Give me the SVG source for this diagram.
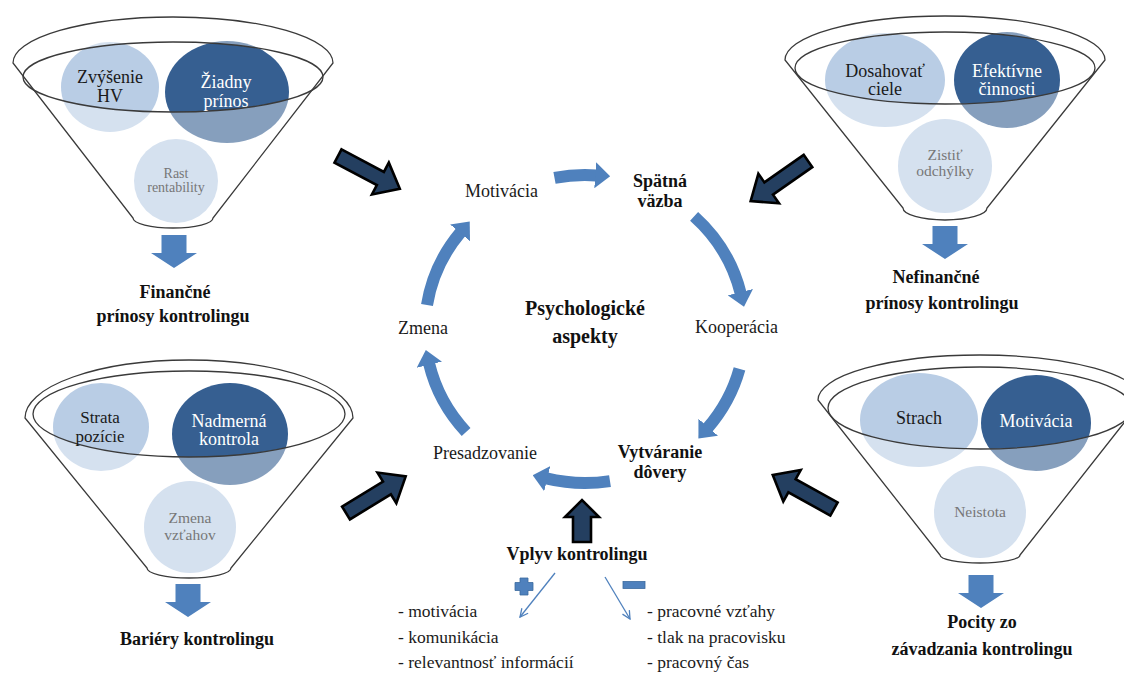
<svg xmlns="http://www.w3.org/2000/svg" width="1124" height="673" viewBox="0 0 1124 673">
  <style>
    text { font-family: "Liberation Serif", "Times New Roman", serif; }
    .c-light { fill: #B9CDE5; }
    .c-dark { fill: #365F91; }
    .veil { fill: #FFFFFF; fill-opacity: 0.4; fill-rule: evenodd; stroke: none; }
    .rim { fill: none; stroke: #3A3A3A; stroke-width: 1.3; }
    .t-in { font-size: 18px; fill: #1A1A1A; text-anchor: middle; }
    .t-inw { font-size: 18px; fill: #FFFFFF; text-anchor: middle; }
    .t-low { font-size: 15.5px; fill: #777777; text-anchor: middle; }
    .t-sm { font-size: 14px; fill: #777777; text-anchor: middle; }
    .lbl { font-size: 18px; font-weight: bold; fill: #111111; text-anchor: middle; }
    .cyc { font-size: 18px; fill: #1A1A1A; }
    .cycb { font-size: 18px; font-weight: bold; fill: #111111; text-anchor: middle; }
    .lst { font-size: 17.5px; fill: #1A1A1A; }
    .ring { fill: none; stroke: #4F81BD; stroke-width: 12; marker-end: url(#ringHead); }
    .thin { fill: none; stroke: #4F81BD; stroke-width: 1.3; marker-end: url(#thinHead); }
    .big { fill: #243F60; stroke: #000000; stroke-width: 2.6; stroke-linejoin: miter; }
    .down { fill: #4F81BD; }
  </style>
  <defs>
    <marker id="ringHead" markerUnits="userSpaceOnUse" viewBox="0 0 15 26" markerWidth="15" markerHeight="26" refX="1" refY="13" orient="auto">
      <path d="M0,0 L15,13 L0,26 Z" fill="#4F81BD"/>
    </marker>
    <marker id="thinHead" markerUnits="userSpaceOnUse" viewBox="0 0 10 10" markerWidth="10" markerHeight="10" refX="9" refY="5" orient="auto">
      <path d="M1,1 L9,5 L1,9" fill="none" stroke="#4F81BD" stroke-width="1.3"/>
    </marker>
    <!-- dark block arrow, tail centre at origin, pointing along +x -->
    <polygon id="bigArrow" points="0,-7.5 48,-7.5 48,-18 70,0 48,18 48,7.5 0,7.5"/>
    <!-- blue down arrow, top centre at origin -->
    <polygon id="downArrow" points="-12.5,0 12.5,0 12.5,18 23,18 0,33 -23,18 -12.5,18"/>
  </defs>

  <rect width="1124" height="673" fill="#FFFFFF"/>

  <!-- funnel: financial benefits -->
  <g id="funnel-financne">
    <ellipse class="c-light" cx="110" cy="87" rx="49" ry="45"/>
    <ellipse class="c-dark" cx="227" cy="92" rx="62" ry="51"/>
    <circle class="c-light" cx="176" cy="181" r="42"/>
    <path class="veil" d="M13,63 A160,46 0 0 1 333,63 L213,218 A40,10 0 0 1 133,218 Z M23,77 A150,35 0 1 0 323,77 A150,35 0 1 0 23,77 Z"/>
    <path class="rim" d="M13,63 A160,46 0 0 1 333,63 L213,218 A40,10 0 0 1 133,218 Z"/>
    <ellipse class="rim" cx="173" cy="77" rx="150" ry="35"/>
    <text class="t-in" x="110" y="83">Zvýšenie</text>
    <text class="t-in" x="110" y="102">HV</text>
    <text class="t-inw" x="226" y="88">Žiadny</text>
    <text class="t-inw" x="226" y="107">prínos</text>
    <text class="t-sm" x="176" y="178">Rast</text>
    <text class="t-sm" x="176" y="192">rentability</text>
    <use href="#downArrow" class="down" transform="translate(174,235)"/>
    <text class="lbl" x="175" y="298">Finančné</text>
    <text class="lbl" x="173" y="322">prínosy kontrolingu</text>
  </g>

  <!-- funnel: non-financial benefits -->
  <g id="funnel-nefinancne">
    <ellipse class="c-light" cx="885" cy="80" rx="60" ry="47"/>
    <ellipse class="c-dark" cx="1007" cy="80" rx="53" ry="48"/>
    <circle class="c-light" cx="945" cy="166" r="47"/>
    <path class="veil" d="M785,60 A160,44 0 0 1 1105,60 L987,208 A42,12 0 0 1 903,208 Z M795,68 A150,36 0 1 0 1095,68 A150,36 0 1 0 795,68 Z"/>
    <path class="rim" d="M785,60 A160,44 0 0 1 1105,60 L987,208 A42,12 0 0 1 903,208 Z"/>
    <ellipse class="rim" cx="945" cy="68" rx="150" ry="36"/>
    <text class="t-in" x="885" y="77">Dosahovať</text>
    <text class="t-in" x="885" y="95">ciele</text>
    <text class="t-inw" x="1007" y="77">Efektívne</text>
    <text class="t-inw" x="1007" y="95">činnosti</text>
    <text class="t-low" x="945" y="160">Zistiť</text>
    <text class="t-low" x="945" y="176">odchýlky</text>
    <use href="#downArrow" class="down" transform="translate(945,226)"/>
    <text class="lbl" x="936" y="283">Nefinančné</text>
    <text class="lbl" x="942" y="309">prínosy kontrolingu</text>
  </g>

  <!-- funnel: barriers -->
  <g id="funnel-bariery">
    <ellipse class="c-light" cx="101" cy="427" rx="48" ry="44"/>
    <ellipse class="c-dark" cx="230" cy="434" rx="58" ry="51"/>
    <circle class="c-light" cx="190" cy="527" r="46"/>
    <path class="veil" d="M25,418 A164,58 0 0 1 353,418 L231,568 A42,10 0 0 1 147,568 Z M33,414 A156,43 0 1 0 345,414 A156,43 0 1 0 33,414 Z"/>
    <path class="rim" d="M25,418 A164,58 0 0 1 353,418 L231,568 A42,10 0 0 1 147,568 Z"/>
    <ellipse class="rim" cx="189" cy="414" rx="156" ry="43"/>
    <text class="t-in" x="100" y="423" style="font-size:17px">Strata</text>
    <text class="t-in" x="100" y="442" style="font-size:17px">pozície</text>
    <text class="t-inw" x="229" y="427">Nadmerná</text>
    <text class="t-inw" x="229" y="445">kontrola</text>
    <text class="t-low" x="190" y="523">Zmena</text>
    <text class="t-low" x="190" y="540">vzťahov</text>
    <use href="#downArrow" class="down" transform="translate(188,584)"/>
    <text class="lbl" x="197" y="645">Bariéry kontrolingu</text>
  </g>

  <!-- funnel: feelings from implementation -->
  <g id="funnel-pocity">
    <ellipse class="c-light" cx="919" cy="420" rx="59" ry="47"/>
    <ellipse class="c-dark" cx="1036" cy="423" rx="55" ry="48"/>
    <circle class="c-light" cx="980" cy="512" r="46"/>
    <path class="veil" d="M818,400 A162,45 0 0 1 1142,400 L1020,555 A40,8 0 0 1 940,555 Z M828,408 A152,41 0 1 0 1132,408 A152,41 0 1 0 828,408 Z"/>
    <path class="rim" d="M818,400 A162,45 0 0 1 1142,400 L1020,555 A40,8 0 0 1 940,555 Z"/>
    <ellipse class="rim" cx="980" cy="408" rx="152" ry="41"/>
    <text class="t-in" x="919" y="424">Strach</text>
    <text class="t-inw" x="1036" y="427">Motivácia</text>
    <text class="t-low" x="980" y="517">Neistota</text>
    <use href="#downArrow" class="down" transform="translate(981,575)"/>
    <text class="lbl" x="982" y="628">Pocity zo</text>
    <text class="lbl" x="982" y="655">závadzania kontrolingu</text>
  </g>

  <!-- psychological cycle -->
  <g id="cycle">
    <text class="cycb" x="585" y="315" style="font-size:20px">Psychologické</text>
    <text class="cycb" x="585" y="343" style="font-size:20px">aspekty</text>
    <text class="cyc" x="465" y="197">Motivácia</text>
    <text class="cycb" x="660" y="187">Spätná</text>
    <text class="cycb" x="660" y="207">väzba</text>
    <text class="cyc" x="695" y="333">Kooperácia</text>
    <text class="cycb" x="660" y="458">Vytváranie</text>
    <text class="cycb" x="660" y="478">dôvery</text>
    <text class="cyc" x="433" y="459">Presadzovanie</text>
    <text class="cyc" x="398" y="334">Zmena</text>
  </g>

  <!-- influence of controlling -->
  <g id="vplyv">
    <text class="cycb" x="577" y="560">Vplyv kontrolingu</text>
    <path d="M520,578 h8 v4.5 h5 v8 h-5 v4.5 h-8 v-4.5 h-5 v-8 h5 Z" fill="#4F81BD" stroke="#3B6A9E" stroke-width="0.8"/>
    <rect x="623" y="581.5" width="22" height="7" fill="#4F81BD" stroke="#3B6A9E" stroke-width="0.8"/>
    <text class="lst" x="398" y="617">- motivácia</text>
    <text class="lst" x="398" y="643">- komunikácia</text>
    <text class="lst" x="398" y="668">- relevantnosť  informácií</text>
    <text class="lst" x="647" y="617">- pracovné vzťahy</text>
    <text class="lst" x="647" y="643">- tlak na pracovisku</text>
    <text class="lst" x="647" y="668">- pracovný čas</text>
  </g>

  <!-- connectors -->
  <g id="connectors">
    <path class="ring" d="M554.5,177.8 A160,154 0 0 1 596.2,175.4"/>
    <path class="ring" d="M694.1,216.4 A160,154 0 0 1 740.6,293.1"/>
    <path class="ring" d="M739.5,368.9 A160,154 0 0 1 707.6,428.0"/>
    <path class="ring" d="M610.0,481.1 A160,154 0 0 1 546.3,478.4"/>
    <path class="ring" d="M466.1,432.0 A160,154 0 0 1 429.1,363.7"/>
    <path class="ring" d="M427.0,304.9 A160,154 0 0 1 460.7,232.1"/>

    <use href="#bigArrow" class="big" transform="translate(338,156) rotate(28)"/>
    <use href="#bigArrow" class="big" transform="translate(808,161) rotate(145)"/>
    <use href="#bigArrow" class="big" transform="translate(346,513) rotate(-31.5)"/>
    <use href="#bigArrow" class="big" transform="translate(834,509) rotate(209)"/>
    <polygon class="big" points="573,542 573,517 565,517 582,500 599,517 591,517 591,542"/>

    <path class="thin" d="M555,573 L520,617"/>
    <path class="thin" d="M605,577 L630,619"/>
  </g>
</svg>
